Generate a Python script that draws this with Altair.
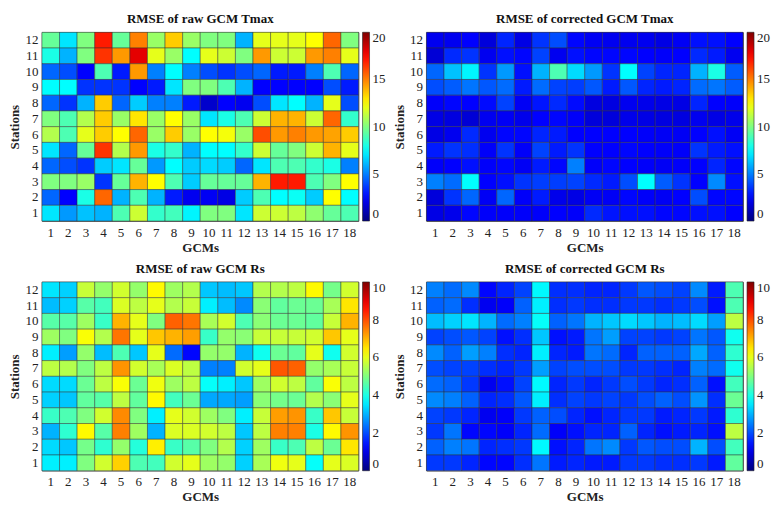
import altair as alt
import pandas as pd

gcms = list(range(1, 19))
stations = list(range(12, 0, -1))  # rows listed top (12) to bottom (1)

raw_tmax = [
    [9.5, 7.0, 10.0, 17.0, 9.5, 15.0, 10.5, 13.5, 10.5, 10.0, 10.0, 6.0, 12.0, 12.0, 12.0, 12.5, 15.5, 10.0],
    [8.0, 6.0, 10.0, 16.5, 14.5, 18.0, 12.0, 10.5, 7.5, 12.0, 11.5, 10.0, 14.5, 11.5, 11.5, 14.5, 15.0, 12.0],
    [4.5, 4.0, 2.5, 9.0, 3.0, 14.5, 5.0, 7.5, 5.0, 4.0, 3.5, 4.0, 4.5, 3.0, 3.0, 5.0, 9.0, 4.5],
    [7.5, 7.5, 3.5, 3.5, 3.5, 2.5, 3.0, 7.0, 10.0, 10.0, 9.0, 6.0, 2.5, 2.5, 2.5, 2.5, 4.0, 3.0],
    [4.5, 3.5, 6.0, 13.5, 4.5, 6.5, 5.0, 5.0, 3.0, 1.5, 2.5, 2.2, 4.0, 7.0, 7.5, 6.0, 12.0, 4.0],
    [10.0, 9.0, 11.0, 13.5, 10.5, 13.0, 10.5, 12.5, 10.5, 7.0, 8.0, 9.0, 11.5, 14.0, 14.0, 11.5, 15.5, 8.5],
    [11.0, 9.0, 12.0, 13.5, 12.5, 15.5, 10.5, 13.5, 10.5, 12.5, 12.3, 10.5, 16.0, 14.5, 15.0, 14.5, 14.3, 13.5],
    [7.0, 4.5, 9.5, 16.5, 11.0, 14.5, 8.0, 8.5, 6.0, 7.5, 7.5, 8.5, 11.5, 9.5, 10.0, 11.5, 14.0, 12.0],
    [4.5, 4.0, 3.5, 6.5, 7.0, 9.5, 5.5, 7.5, 6.5, 6.8, 6.5, 4.5, 7.0, 9.0, 9.0, 8.5, 8.0, 5.0],
    [10.0, 10.0, 10.5, 3.5, 9.5, 14.0, 12.5, 9.0, 6.5, 9.5, 9.5, 9.5, 14.0, 17.0, 17.0, 9.0, 10.0, 12.5],
    [4.5, 2.5, 8.0, 15.5, 6.0, 9.0, 6.0, 3.0, 2.2, 2.3, 2.0, 6.5, 9.0, 7.5, 7.7, 6.5, 12.5, 7.5],
    [7.0, 5.5, 6.3, 6.0, 9.0, 11.5, 8.5, 8.8, 7.3, 10.0, 10.0, 7.0, 11.5, 11.5, 11.2, 10.3, 9.5, 9.0],
]

cor_tmax = [
    [2.2, 2.2, 2.5, 1.8, 3.2, 2.0, 3.5, 4.0, 2.6, 2.3, 2.2, 2.2, 2.2, 2.0, 2.3, 2.8, 2.8, 2.5],
    [1.7, 3.3, 3.5, 2.2, 2.8, 2.6, 3.8, 2.2, 2.8, 2.6, 2.6, 2.6, 2.5, 2.4, 2.5, 3.3, 3.0, 2.2],
    [4.5, 6.3, 7.3, 3.5, 5.5, 2.8, 6.0, 9.0, 6.8, 5.5, 3.5, 7.5, 3.8, 3.2, 3.2, 6.0, 8.0, 4.3],
    [4.0, 4.3, 4.8, 4.2, 4.6, 3.0, 4.6, 3.8, 3.7, 4.2, 3.0, 4.2, 3.2, 3.0, 3.2, 4.6, 4.8, 4.3],
    [2.4, 2.6, 2.5, 2.7, 3.8, 2.3, 2.9, 3.3, 2.7, 1.9, 1.9, 2.2, 2.1, 2.0, 2.0, 3.2, 2.5, 2.4],
    [2.0, 1.9, 1.7, 2.2, 2.3, 2.1, 2.5, 2.6, 2.4, 1.8, 1.8, 2.1, 2.0, 1.9, 1.9, 2.2, 2.0, 2.1],
    [2.0, 2.2, 3.3, 2.2, 2.6, 2.6, 3.2, 3.0, 2.5, 2.5, 2.5, 2.5, 2.4, 2.3, 2.3, 2.5, 2.8, 2.3],
    [3.0, 3.5, 3.4, 2.4, 3.5, 2.4, 3.8, 3.0, 3.5, 2.5, 2.5, 2.6, 2.5, 2.4, 2.4, 3.5, 3.0, 2.8],
    [2.4, 2.5, 2.8, 2.4, 2.6, 2.3, 3.0, 2.6, 5.0, 2.4, 2.6, 2.5, 2.4, 2.3, 2.4, 2.5, 3.2, 2.6],
    [5.0, 4.6, 7.5, 2.5, 2.8, 3.5, 3.7, 3.7, 3.8, 3.3, 3.0, 4.0, 7.5, 4.3, 3.5, 2.5, 5.2, 2.8],
    [1.8, 3.5, 4.5, 2.3, 4.5, 2.4, 3.0, 2.1, 2.0, 2.3, 2.3, 2.6, 2.4, 2.3, 2.5, 4.0, 2.6, 2.6],
    [2.0, 2.1, 2.6, 2.4, 2.4, 2.4, 2.4, 2.5, 2.4, 3.3, 2.9, 2.8, 2.8, 2.6, 2.6, 2.8, 2.8, 2.5],
]

raw_rs = [
    [3.5, 3.3, 5.7, 5.2, 5.8, 5.2, 6.3, 5.3, 5.5, 3.2, 3.1, 3.2, 5.5, 5.5, 5.6, 6.3, 4.9, 5.8],
    [3.1, 3.3, 4.6, 4.4, 5.9, 5.6, 6.0, 5.5, 5.7, 3.6, 3.1, 2.6, 5.1, 4.7, 4.8, 4.8, 5.4, 6.5],
    [4.6, 4.6, 5.3, 4.3, 7.0, 6.0, 5.0, 7.8, 7.6, 5.4, 5.8, 4.5, 5.1, 4.8, 4.8, 4.7, 5.7, 7.0],
    [5.3, 5.0, 6.2, 5.5, 7.6, 6.0, 6.8, 7.0, 7.2, 4.3, 5.2, 5.1, 5.7, 5.7, 5.7, 5.8, 6.8, 6.0],
    [3.6, 2.8, 5.2, 3.1, 4.5, 3.2, 6.0, 2.3, 1.3, 5.2, 5.2, 3.0, 3.9, 4.8, 4.7, 6.0, 3.9, 5.8],
    [5.6, 5.5, 5.0, 5.6, 7.3, 5.8, 5.4, 5.9, 5.6, 2.5, 2.5, 5.8, 6.0, 7.9, 7.8, 5.2, 5.4, 5.7],
    [3.4, 3.4, 4.8, 5.6, 6.2, 4.8, 6.1, 5.3, 5.6, 3.8, 3.6, 3.2, 5.3, 5.8, 5.6, 4.7, 6.2, 5.6],
    [3.3, 3.2, 4.7, 4.6, 5.6, 4.7, 6.3, 4.4, 4.8, 2.9, 2.9, 2.8, 5.1, 4.9, 4.8, 5.5, 5.1, 6.0],
    [4.3, 4.5, 5.0, 5.8, 7.4, 5.0, 3.6, 6.0, 5.8, 5.3, 5.0, 3.6, 5.7, 7.2, 7.3, 4.3, 6.8, 5.7],
    [3.0, 4.2, 6.3, 4.6, 7.5, 5.3, 3.0, 5.9, 5.9, 5.8, 5.6, 3.2, 5.6, 7.5, 7.5, 4.0, 6.3, 7.3],
    [3.4, 3.2, 4.9, 4.2, 5.2, 4.1, 6.4, 4.3, 4.6, 5.0, 5.5, 3.3, 5.3, 4.3, 4.5, 5.6, 4.8, 6.5],
    [3.6, 3.6, 5.0, 5.8, 6.7, 4.5, 4.4, 5.8, 6.0, 5.3, 5.2, 3.3, 5.4, 6.1, 6.0, 3.8, 6.0, 5.9],
]

cor_rs = [
    [2.5, 2.3, 2.6, 1.3, 1.6, 1.9, 3.7, 1.7, 1.7, 1.6, 1.6, 1.8, 2.1, 2.0, 1.9, 2.6, 1.5, 4.5],
    [2.2, 2.3, 1.7, 1.1, 1.2, 2.2, 3.6, 1.7, 1.8, 1.7, 1.7, 1.8, 1.8, 1.7, 1.8, 2.0, 1.4, 4.5],
    [3.1, 3.3, 3.5, 3.0, 2.3, 2.5, 3.8, 2.2, 2.4, 3.0, 3.2, 3.4, 3.2, 3.0, 3.1, 3.4, 2.8, 5.6],
    [1.9, 2.0, 2.1, 1.9, 1.4, 1.7, 3.2, 1.4, 1.5, 2.4, 2.8, 1.9, 1.9, 1.8, 1.9, 2.4, 2.1, 3.9],
    [2.6, 2.2, 2.8, 2.5, 1.7, 1.6, 3.6, 1.6, 1.5, 2.4, 2.3, 1.6, 2.2, 2.2, 2.2, 2.9, 2.2, 4.2],
    [2.0, 1.9, 1.9, 1.7, 1.6, 1.8, 2.8, 1.9, 2.0, 2.0, 2.0, 1.8, 1.8, 1.7, 1.6, 2.5, 2.3, 3.9],
    [2.3, 2.2, 1.8, 1.1, 1.4, 1.9, 3.7, 1.6, 1.8, 1.6, 1.8, 2.0, 1.8, 1.6, 1.7, 2.2, 1.4, 4.4],
    [2.6, 2.5, 2.2, 1.6, 1.7, 2.1, 3.6, 1.7, 1.9, 1.8, 1.9, 1.8, 2.0, 2.2, 2.0, 2.7, 1.7, 4.8],
    [1.9, 1.8, 1.6, 1.1, 1.2, 1.8, 2.2, 2.0, 1.6, 1.4, 1.6, 1.8, 1.8, 1.5, 1.6, 1.8, 1.5, 4.2],
    [1.8, 2.4, 1.3, 1.3, 1.2, 1.6, 2.3, 1.2, 1.4, 1.6, 1.6, 2.2, 1.6, 1.4, 1.5, 1.6, 1.4, 5.6],
    [2.2, 2.5, 2.4, 1.6, 1.7, 1.8, 3.7, 1.4, 1.6, 2.4, 2.6, 1.8, 2.1, 2.0, 2.0, 3.0, 2.0, 4.4],
    [1.8, 1.8, 1.6, 1.3, 1.3, 1.7, 2.4, 1.5, 1.6, 1.5, 1.5, 1.8, 1.8, 1.7, 1.7, 1.8, 1.5, 4.7],
]

titles = ["RMSE of raw GCM Tmax", "RMSE of corrected GCM Tmax",
          "RMSE of raw GCM Rs", "RMSE of corrected GCM Rs"]
maxima = [20, 20, 10, 10]
legend_values = [[0, 5, 10, 15, 20], [0, 5, 10, 15, 20],
                 [0, 2, 4, 6, 8, 10], [0, 2, 4, 6, 8, 10]]

JET = ["#00007f", "#0000ff", "#00ffff", "#ffff00", "#ff0000", "#7f0000"]
FONT = "Liberation Serif"
W, H = 317, 189


def to_df(rows):
    recs = []
    for st, row in zip(stations, rows):
        for g, v in zip(gcms, row):
            recs.append({"gcm": g, "station": st, "rmse": v})
    return pd.DataFrame(recs)


def panel(rows, title, vmax, lvals):
    dom = [0, vmax * 0.125, vmax * 0.375, vmax * 0.625, vmax * 0.875, vmax]
    return alt.Chart(to_df(rows)).mark_rect(
        stroke="#303030", strokeWidth=0.6, strokeOpacity=0.75
    ).encode(
        x=alt.X("gcm:O", title="GCMs",
                scale=alt.Scale(paddingInner=0, paddingOuter=0),
                axis=alt.Axis(labelAngle=0, ticks=False, domain=False,
                              labelPadding=5, titlePadding=2)),
        y=alt.Y("station:O", title="Stations", sort="descending",
                scale=alt.Scale(paddingInner=0, paddingOuter=0),
                axis=alt.Axis(ticks=False, domain=False,
                              labelPadding=4, titlePadding=3)),
        color=alt.Color("rmse:Q", title=None,
                        scale=alt.Scale(domain=dom, range=JET, interpolate="rgb"),
                        legend=alt.Legend(orient="right", offset=4,
                                          gradientLength=H, gradientThickness=7,
                                          values=lvals, labelOffset=3,
                                          gradientStrokeColor="#222",
                                          gradientStrokeWidth=0.6)),
    ).properties(width=W, height=H, title=title)


charts = [panel(r, t, m, lv) for r, t, m, lv in
          zip([raw_tmax, cor_tmax, raw_rs, cor_rs], titles, maxima, legend_values)]

top = alt.hconcat(charts[0], charts[1], spacing=6).resolve_scale(color="independent")
bottom = alt.hconcat(charts[2], charts[3], spacing=6).resolve_scale(color="independent")

chart = alt.vconcat(top, bottom, spacing=7).resolve_scale(
    color="independent"
).properties(
    padding={"left": 0, "top": 4, "right": 0, "bottom": 0}
).configure(
    font=FONT
).configure_view(
    stroke="#222", strokeWidth=0.8
).configure_axis(
    labelFont=FONT, labelFontSize=13, labelColor="#222",
    titleFont=FONT, titleFontSize=13, titleFontWeight="bold", titleColor="#222"
).configure_legend(
    labelFont=FONT, labelFontSize=13, labelColor="#222"
).configure_title(
    font=FONT, fontSize=13, fontWeight="bold", color="#111", offset=6
)

chart.save("out.html", embed_options={"renderer": "svg", "actions": False})
